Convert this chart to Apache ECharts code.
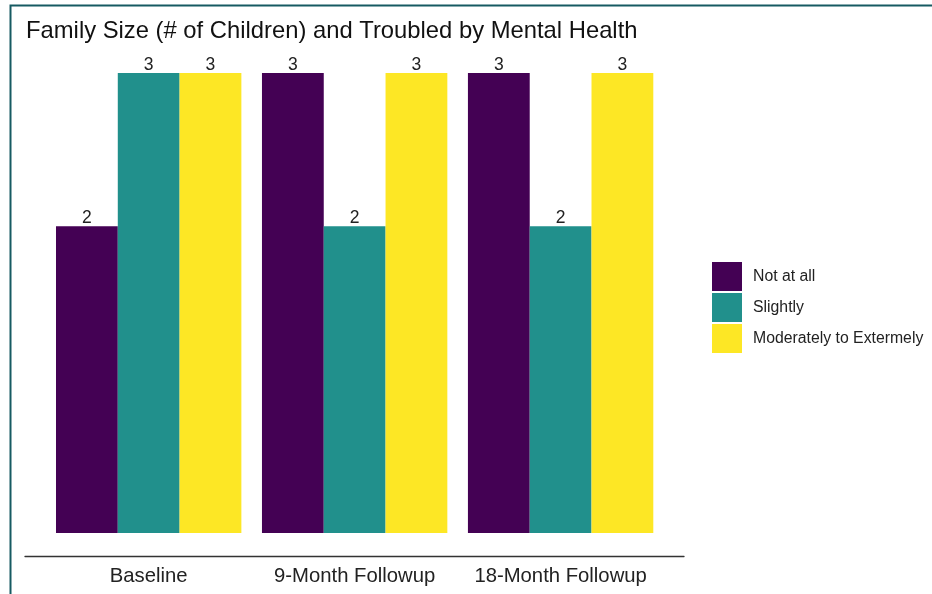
<!DOCTYPE html>
<html>
<head>
<meta charset="utf-8">
<script src="https://cdn.jsdelivr.net/npm/echarts@6/dist/echarts.min.js"></script>
<style>
  html, body { margin: 0; padding: 0; background: #ffffff; }
  #chart { width: 932px; height: 594px; }
</style>
</head>
<body>
<div id="chart"></div>
<script>
// Time points and response groups
const timepoints = ['Baseline', '9-Month Followup', '18-Month Followup'];
const groups = ['Not at all', 'Slightly', 'Moderately to Extermely'];

// Family size (# of children) per group, one value per time point
const notAtAll = [2, 3, 3];
const slightly = [3, 2, 2];
const moderatelyToExtremely = [3, 3, 3];

const palette = ['#440154', '#21908c', '#fde725'];
const seriesValues = [notAtAll, slightly, moderatelyToExtremely];

const FONT = '"Liberation Sans", Arial, sans-serif';

const chart = echarts.init(document.getElementById('chart'), null, { renderer: 'canvas' });

const series = groups.map((name, i) => ({
  name: name,
  type: 'bar',
  xAxisIndex: 0,
  yAxisIndex: 0,
  data: seriesValues[i],
  barGap: '0%',
  barCategoryGap: '10%',
  itemStyle: { color: palette[i] },
  emphasis: { disabled: true },
  label: {
    show: true,
    position: 'top',
    distance: -1,
    fontFamily: FONT,
    fontSize: 17.5,
    color: '#222222'
  }
}));

chart.setOption({
  animation: false,
  backgroundColor: '#ffffff',
  title: {
    text: 'Family Size (# of Children) and Troubled by Mental Health',
    left: 21,
    top: 14,
    textStyle: { fontFamily: FONT, fontSize: 23.8, fontWeight: 'normal', color: '#111111' }
  },
  legend: {
    orient: 'vertical',
    left: 707,
    top: 257,
    itemWidth: 30,
    itemHeight: 29,
    itemGap: 2,
    icon: 'rect',
    data: groups,
    textStyle: { fontFamily: FONT, fontSize: 15.8, color: '#222222', padding: [6, 0, 0, 6] }
  },
  grid: [
    { left: 45.7, right: 268.4, top: 50, bottom: 38 },
    { left: 25, right: 248, top: 50, bottom: 38 }
  ],
  xAxis: [
    {
      type: 'category',
      gridIndex: 0,
      data: timepoints,
      axisLine: { show: false },
      axisTick: { show: false },
      axisLabel: {
        interval: 0,
        hideOverlap: false,
        fontFamily: FONT,
        fontSize: 20.3,
        color: '#222222',
        margin: 10
      }
    },
    {
      type: 'value',
      gridIndex: 1,
      min: 0,
      max: 1,
      axisLine: { show: true, onZero: false, lineStyle: { color: '#333333', width: 1.3 } },
      axisTick: { show: false },
      axisLabel: { show: false },
      splitLine: { show: false }
    }
  ],
  yAxis: [
    { type: 'value', gridIndex: 0, min: -0.15, max: 3.15, show: false, splitLine: { show: false } },
    { type: 'value', gridIndex: 1, min: 0, max: 1, show: false, splitLine: { show: false } }
  ],
  series: series,
  graphic: [
    {
      type: 'rect',
      silent: true,
      shape: { x: 10.5, y: 5.5, width: 1000, height: 1000 },
      style: { fill: null, stroke: '#165a62', lineWidth: 2 }
    }
  ]
});
</script>
</body>
</html>
